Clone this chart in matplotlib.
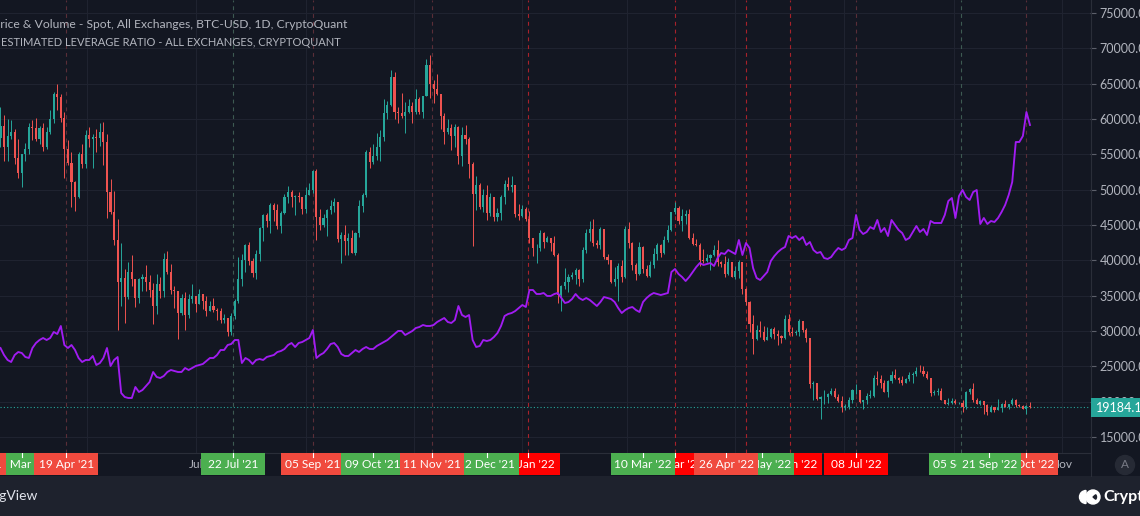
"""BTC price candles with the estimated leverage ratio, TradingView dark style."""

import matplotlib
matplotlib.use("Agg")
from matplotlib import pyplot as plt
from matplotlib.patches import Rectangle, Circle, Wedge
import matplotlib.dates as mdates
import numpy as np
import pandas as pd

plt.rcParams['font.family'] = ['Lato', 'DejaVu Sans']

# ---------------------------------------------------------------- data
# 2-day candles starting 13 Mar 2021, prices in thousands of USD
first_open = 57.3
close_k = [
    59.0, 56.0, 57.6, 58.1, 54.5, 52.3, 55.0, 55.8, 58.8, 58.7,
    57.1, 58.7, 56.0, 58.1, 60.0, 63.6, 63.1, 60.1, 55.7, 53.8,
    51.1, 49.0, 55.0, 53.6, 57.8, 57.2, 57.4, 57.3, 58.2, 56.7,
    49.7, 46.8, 42.9, 37.0, 37.5, 34.8, 38.4, 37.4, 34.6, 37.3,
    37.6, 36.9, 35.8, 33.6, 36.7, 35.6, 40.2, 38.3, 35.8, 35.6,
    32.5, 34.7, 32.2, 34.5, 35.0, 33.8, 35.3, 34.2, 32.9, 33.5,
    33.0, 32.8, 31.5, 31.8, 29.8, 32.1, 34.3, 37.3, 40.0, 42.2,
    39.9, 38.2, 40.9, 44.6, 46.4, 45.6, 47.8, 47.1, 44.8, 46.7,
    48.9, 49.6, 48.9, 49.1, 48.9, 47.2, 49.3, 50.0, 52.7, 46.1,
    45.0, 46.0, 47.1, 47.7, 48.3, 43.0, 43.6, 42.8, 43.2, 41.0,
    43.8, 47.7, 49.2, 55.4, 53.9, 54.7, 56.0, 57.4, 60.9, 62.0,
    66.0, 61.0, 60.9, 60.4, 61.0, 61.8, 61.0, 62.9, 61.0, 63.3,
    67.6, 64.9, 64.2, 63.6, 60.4, 58.1, 58.7, 57.6, 58.9, 54.7,
    57.8, 57.2, 53.6, 49.4, 50.6, 47.6, 49.3, 46.7, 48.9, 46.2,
    46.7, 49.0, 50.8, 50.4, 50.6, 46.5, 46.3, 47.3, 45.8, 43.1,
    41.7, 41.8, 43.9, 42.6, 43.1, 42.4, 40.7, 35.1, 36.3, 36.9,
    37.7, 37.9, 38.7, 37.3, 41.4, 43.8, 44.4, 42.4, 42.2, 44.5,
    40.5, 40.1, 37.0, 37.3, 39.2, 37.7, 44.4, 42.5, 39.4, 38.1,
    41.9, 38.8, 37.8, 39.3, 40.9, 42.2, 41.0, 42.9, 44.3, 46.8,
    47.4, 45.5, 46.3, 46.6, 43.2, 42.3, 42.2, 40.1, 39.9, 40.4,
    40.8, 41.5, 39.7, 39.5, 38.1, 39.7, 37.7, 38.5, 39.7, 36.0,
    34.1, 31.0, 28.9, 30.1, 29.8, 28.7, 29.2, 30.3, 29.6, 29.3,
    29.0, 31.7, 29.8, 29.7, 29.9, 31.4, 30.1, 29.0, 22.5, 22.6,
    20.4, 20.6, 20.7, 21.1, 21.5, 20.7, 20.1, 19.3, 19.3, 20.2,
    21.6, 21.6, 19.9, 20.2, 20.8, 20.8, 23.4, 23.2, 22.6, 21.3,
    22.9, 23.8, 23.3, 23.0, 22.6, 23.2, 23.8, 23.9, 24.4, 24.3,
    23.9, 23.3, 21.2, 21.4, 21.5, 20.3, 19.6, 19.8, 20.1, 19.8,
    19.8, 19.3, 21.4, 21.8, 20.2, 19.7, 20.1, 19.5, 18.5, 19.3,
    18.8, 19.1, 19.6, 19.3, 19.6, 20.2, 19.5, 19.4, 19.0, 19.4,
    19.18,
]
high_k = [
    61.7, 60.6, 60.0, 59.9, 58.6, 57.2, 55.1, 56.6, 59.4, 59.8,
    60.2, 59.0, 59.5, 58.9, 61.3, 63.8, 64.9, 63.6, 61.0, 57.0,
    55.4, 51.2, 55.4, 56.4, 58.5, 58.9, 57.9, 58.6, 59.5, 59.6,
    57.9, 51.5, 49.8, 45.8, 42.5, 38.8, 39.8, 40.8, 37.2, 37.5,
    38.0, 39.3, 37.9, 36.8, 38.0, 37.6, 41.0, 41.3, 39.5, 36.4,
    35.7, 35.2, 35.5, 35.3, 36.6, 35.0, 35.9, 35.3, 35.0, 34.3,
    34.6, 33.3, 33.2, 32.4, 31.9, 32.6, 34.5, 40.5, 40.9, 42.3,
    42.6, 40.4, 41.4, 44.7, 46.5, 46.7, 48.1, 48.1, 48.0, 47.0,
    49.4, 50.5, 49.9, 49.2, 49.6, 49.0, 50.4, 51.0, 52.8, 52.9,
    47.3, 46.5, 47.2, 48.5, 48.8, 48.3, 44.0, 45.0, 43.9, 44.3,
    44.0, 48.5, 49.5, 55.6, 56.1, 56.5, 58.0, 58.5, 62.9, 62.6,
    67.0, 66.6, 61.7, 63.7, 62.4, 62.9, 62.4, 64.3, 63.1, 63.3,
    68.5, 69.0, 65.5, 66.3, 63.6, 60.9, 60.0, 59.3, 59.3, 59.0,
    58.8, 59.2, 57.4, 53.9, 51.9, 51.0, 50.1, 50.7, 49.5, 48.9,
    47.4, 49.3, 51.4, 51.8, 52.0, 50.7, 48.0, 47.9, 47.5, 47.0,
    43.1, 42.3, 44.3, 44.0, 43.5, 43.2, 43.4, 41.1, 36.5, 38.9,
    38.0, 38.3, 38.9, 38.8, 41.9, 44.5, 45.5, 45.8, 42.9, 44.7,
    44.5, 40.9, 40.1, 39.1, 39.6, 40.0, 44.9, 45.4, 42.6, 39.6,
    42.6, 42.0, 39.3, 39.9, 41.7, 42.4, 42.3, 43.4, 45.0, 46.9,
    48.2, 47.7, 47.2, 47.1, 47.2, 43.9, 43.0, 42.5, 41.6, 40.9,
    40.9, 42.2, 42.9, 39.9, 40.6, 40.4, 39.3, 39.2, 40.0, 39.8,
    36.1, 34.3, 32.2, 30.9, 31.4, 30.7, 30.5, 30.4, 30.6, 30.2,
    29.4, 32.2, 32.4, 30.6, 30.2, 31.7, 31.0, 30.4, 28.9, 22.9,
    22.6, 20.8, 21.7, 21.2, 21.9, 21.9, 21.1, 20.8, 19.6, 20.7,
    21.8, 22.5, 21.6, 20.3, 21.2, 21.6, 23.8, 24.3, 23.8, 23.0,
    23.1, 24.4, 24.6, 23.5, 23.6, 23.4, 24.2, 24.2, 24.9, 25.2,
    25.0, 24.4, 23.2, 21.7, 21.9, 22.0, 20.3, 20.5, 20.5, 20.4,
    20.0, 20.2, 21.5, 21.9, 22.7, 20.5, 20.2, 20.1, 19.6, 19.5,
    19.3, 20.4, 19.8, 20.2, 19.7, 20.5, 20.4, 19.6, 19.5, 19.5,
    19.9,
]
low_k = [
    56.0, 54.0, 54.1, 57.2, 53.7, 51.7, 50.4, 54.1, 55.0, 57.0,
    56.9, 56.5, 55.5, 55.7, 57.9, 59.4, 61.3, 59.6, 51.6, 53.5,
    47.5, 47.0, 48.8, 53.0, 53.1, 56.1, 53.0, 55.4, 56.2, 53.5,
    46.0, 46.6, 42.1, 30.1, 33.5, 31.1, 34.5, 36.4, 33.4, 34.0,
    35.7, 35.6, 34.8, 31.0, 32.4, 34.6, 34.8, 38.1, 35.2, 33.3,
    28.8, 32.3, 30.2, 31.9, 34.0, 32.7, 33.9, 33.1, 32.1, 32.8,
    32.7, 31.6, 31.2, 31.1, 29.3, 29.5, 31.7, 34.0, 36.4, 38.3,
    39.4, 37.6, 37.3, 39.9, 42.8, 44.7, 43.8, 45.6, 44.4, 43.9,
    46.6, 48.1, 47.6, 46.4, 48.3, 46.5, 46.7, 49.3, 49.5, 42.9,
    44.3, 44.7, 43.4, 46.6, 46.8, 42.6, 39.6, 40.7, 40.8, 41.0,
    40.8, 43.3, 46.9, 49.0, 53.1, 53.7, 54.2, 54.0, 56.9, 60.0,
    61.9, 60.0, 59.5, 60.2, 58.0, 60.9, 59.4, 60.7, 60.7, 60.1,
    63.3, 63.0, 62.3, 63.4, 58.6, 56.5, 57.9, 55.6, 56.0, 53.6,
    53.3, 56.5, 51.7, 42.0, 47.1, 47.3, 46.9, 45.7, 46.3, 45.6,
    45.6, 45.7, 48.0, 50.0, 49.6, 46.1, 45.7, 46.2, 45.6, 42.5,
    40.6, 39.6, 41.3, 41.8, 42.6, 41.3, 40.6, 34.0, 32.9, 36.0,
    35.5, 37.3, 36.6, 36.3, 37.0, 41.1, 42.7, 42.0, 41.7, 41.6,
    40.2, 39.5, 36.8, 36.4, 34.3, 37.0, 37.5, 41.8, 38.6, 37.2,
    37.9, 38.2, 37.6, 37.6, 38.9, 40.1, 40.5, 40.9, 42.6, 44.1,
    46.6, 45.2, 44.2, 45.1, 43.0, 42.1, 42.0, 39.2, 39.6, 39.8,
    38.6, 40.6, 39.2, 39.1, 37.7, 37.9, 37.6, 37.4, 37.5, 35.3,
    33.7, 29.8, 26.7, 28.7, 29.1, 28.6, 28.7, 29.0, 28.9, 28.0,
    28.3, 28.8, 29.4, 29.3, 29.5, 29.3, 29.9, 28.5, 22.0, 20.2,
    20.2, 17.6, 19.7, 19.8, 20.9, 20.5, 19.9, 18.6, 18.8, 19.0,
    19.8, 21.1, 19.8, 18.9, 19.7, 20.5, 20.7, 22.4, 21.9, 21.3,
    20.7, 22.6, 23.2, 22.7, 22.4, 22.6, 22.9, 22.7, 23.6, 24.2,
    23.7, 23.2, 20.8, 20.9, 21.0, 20.2, 19.6, 19.5, 19.6, 19.7,
    19.6, 18.6, 19.0, 21.1, 19.9, 19.6, 19.5, 18.3, 18.1, 18.5,
    18.6, 18.8, 18.5, 19.2, 19.0, 19.5, 19.3, 19.3, 18.9, 18.2,
    19.1,
]
# estimated leverage ratio, same 2-day dates
leverage = [
    .152, .145, .140, .138, .145, .148, .147, .143, .142, .152,
    .157, .160, .162, .160, .162, .168, .166, .174, .155, .152,
    .155, .150, .142, .138, .140, .140, .144, .135, .137, .142,
    .152, .134, .140, .143, .107, .103, .102, .102, .113, .108,
    .110, .114, .118, .128, .123, .122, .124, .128, .130, .129,
    .128, .128, .132, .130, .132, .134, .135, .136, .139, .142,
    .142, .145, .150, .150, .155, .156, .160, .160, .137, .142,
    .140, .136, .140, .141, .140, .143, .144, .145, .148, .149,
    .151, .155, .157, .153, .157, .158, .160, .162, .170, .142,
    .145, .147, .151, .156, .157, .153, .146, .144, .144, .147,
    .150, .148, .151, .153, .151, .151, .154, .156, .158, .160,
    .163, .166, .169, .169, .165, .167, .169, .172, .173, .175,
    .174, .174, .175, .178, .180, .182, .178, .177, .180, .194,
    .185, .183, .185, .160, .153, .154, .160, .159, .160, .163,
    .167, .174, .184, .186, .187, .189, .192, .195, .193, .210,
    .210, .206, .206, .207, .204, .204, .206, .207, .202, .197,
    .198, .201, .206, .202, .200, .202, .200, .197, .194, .198,
    .203, .202, .201, .198, .192, .187, .190, .192, .193, .190,
    .188, .198, .202, .205, .207, .206, .205, .206, .207, .228,
    .231, .226, .223, .219, .223, .228, .233, .237, .235, .236,
    .237, .234, .242, .247, .246, .250, .248, .246, .260, .245,
    .257, .252, .232, .222, .220, .224, .228, .239, .244, .248,
    .251, .253, .264, .262, .264, .260, .263, .255, .258, .250,
    .247, .248, .242, .241, .243, .248, .252, .250, .252, .260,
    .262, .285, .270, .266, .268, .273, .271, .280, .268, .272,
    .264, .280, .275, .270, .267, .260, .262, .268, .274, .268,
    .271, .265, .279, .277, .277, .277, .285, .299, .302, .282,
    .304, .310, .303, .300, .308, .310, .276, .282, .276, .279,
    .278, .282, .288, .295, .305, .318, .358, .358, .364, .388,
    .375,
]
last_price = 19184.10

# event labels on the time axis
label_dates = ['2021-02-26', '2021-03-25', '2021-04-19', '2021-07-22', '2021-09-05',
               '2021-10-09', '2021-11-11', '2021-12-12', '2022-01-04', '2022-03-10',
               '2022-03-28', '2022-04-26', '2022-05-07', '2022-05-16', '2022-06-01',
               '2022-07-08', '2022-09-05', '2022-09-21', '2022-10-12']
label_texts = ["26 Feb '21", "25 Mar '21", "19 Apr '21", "22 Jul '21", "05 Sep '21",
               "09 Oct '21", "11 Nov '21", "12 Dec '21", "04 Jan '22", "10 Mar '22",
               "28 Mar '22", "26 Apr '22", "07 May '22", "16 May '22", "01 Jun '22",
               "08 Jul '22", "05 Sep '22", "21 Sep '22", "12 Oct '22"]
label_kind = ['r', 'g', 'r', 'g', 'r', 'g', 'r', 'g', 'R', 'g',
              'R', 'r', 'R', 'g', 'R', 'R', 'g', 'g', 'r']
label_line = ['', '', 'r', 'g', 'r', '', 'r', '', 'R', '',
              'R', '', 'R', '', 'R', 'r', 'g', '', 'r']
label_rank = [3, 1, 2, 1, 1, 2, 3, 2, 1, 3, 1, 3, 1, 2, 1, 1, 1, 2, 1]

month_dates = ['2021-05-01', '2021-07-01', '2021-09-01', '2021-11-01', '2022-01-01',
               '2022-03-01', '2022-05-01', '2022-07-01', '2022-09-01', '2022-11-01']
month_names = ['May', 'Jul', 'Sep', 'Nov', '2022', 'Mar', 'May', 'Jul', 'Sep', 'Nov']
price_ticks = list(range(15000, 80000, 5000))

# ---------------------------------------------------------------- style
BG = '#131722'
FOOT = '#1e222d'
GRID = '#1f2330'
TXT = '#b2b5be'
UP, DOWN = '#26a69a', '#ef5350'
box_colors = {'r': '#f04a3e', 'R': '#ff0000', 'g': '#4caf50'}
line_colors = {'r': '#5a2e38', 'R': '#a8222b', 'g': '#3d5a52'}

W, H = 1140, 516
fig = plt.figure(figsize=(W / 100, H / 100), dpi=100)
fig.patch.set_facecolor(BG)


def fx(px):
    return px / W


def fy(py):
    return 1 - py / H


ax = fig.add_axes([0, fy(453), fx(1090), 453 / H])
ax.set_facecolor(BG)
ax2 = ax.twinx()
axt = fig.add_axes([0, fy(476), fx(1090), 23 / H], sharex=ax)

dates = pd.date_range('2021-03-13', periods=len(close_k), freq='2D')
x = mdates.date2num(dates)
c = np.array(close_k) * 1000
o = np.r_[first_open, close_k[:-1]] * 1000
hi = np.array(high_k) * 1000
lo = np.array(low_k) * 1000
col = np.where(c >= o, UP, DOWN)

# candles
ax.vlines(x, np.minimum(lo, np.minimum(o, c)), np.maximum(hi, np.maximum(o, c)),
          colors=col, lw=0.7, zorder=3)
ax.bar(x, np.maximum(np.abs(c - o), 80), bottom=np.minimum(o, c), width=1.2,
       color=col, lw=0, zorder=4)

# grid
for t in price_ticks:
    ax.axhline(t, color=GRID, lw=0.8, zorder=0.5)
for d in month_dates:
    ax.axvline(mdates.date2num(pd.Timestamp(d)), color=GRID, lw=0.8, zorder=0.5)

# event lines
for d, k in zip(label_dates, label_line):
    if k:
        ax.axvline(mdates.date2num(pd.Timestamp(d)), color=line_colors[k],
                   lw=0.8, ls=(0, (3.5, 3.5)), zorder=2)

# last price line
ax.axhline(last_price, color=UP, lw=0.8, ls=(0, (1, 2)), zorder=2)

x_left = mdates.date2num(pd.Timestamp('2021-03-13')) - 0.27
ax.set_xlim(x_left, x_left + 1090 / 1.775)
ax.set_ylim(12736, 76840)

ax.yaxis.tick_right()
ax.set_yticks(price_ticks)
ax.set_yticklabels([f'{t:.2f}' for t in price_ticks])
ax.tick_params(axis='y', right=True, left=False, length=4, width=0.8,
               color='#5d606b', labelcolor=TXT, labelsize=9, pad=3)
ax.tick_params(axis='x', bottom=False, labelbottom=False)
for s in ax.spines.values():
    s.set_visible(False)
ax.spines['bottom'].set_visible(True)
ax.spines['bottom'].set_color('#2a2e39')

# leverage ratio
ax2.plot(x, leverage, color='#a11cf2', lw=1.35, solid_joinstyle='round', zorder=5)
ax2.set_ylim(0.047, 0.5)
ax2.set_axis_off()

# time axis strip
axt.set_ylim(0, 23)
axt.set_axis_off()
for d, name in zip(month_dates, month_names):
    axt.text(mdates.date2num(pd.Timestamp(d)), 11.5, name, color=TXT, fontsize=8.6,
             ha='center', va='center', zorder=1, clip_on=True)
box_days = 64 / 1.775
for d, txt, k, r in zip(label_dates, label_texts, label_kind, label_rank):
    xd = mdates.date2num(pd.Timestamp(d))
    z = 2 + 3 * r
    axt.add_patch(Rectangle((xd - box_days / 2, 1), box_days, 22,
                            color=box_colors[k], lw=0, zorder=z))
    axt.plot([xd, xd], [19.5, 23], color='white', lw=0.8, zorder=z + 1)
    axt.text(xd, 11.5, txt, color='white', fontsize=8.6, ha='center', va='center',
             zorder=z + 2, clip_on=True)

# separators and footer
fig.add_artist(plt.Line2D([fx(1090.5), fx(1090.5)], [fy(0), fy(476)],
                          color='#2a2e39', lw=0.8))
fig.add_artist(Rectangle((0, 0), 1, 40 / H, transform=fig.transFigure,
                         color=FOOT, lw=0, zorder=1))

# last price tag
fig.add_artist(Rectangle((fx(1091), fy(417)), fx(60), 19 / H,
                         transform=fig.transFigure, color=UP, lw=0, zorder=5))
fig.text(fx(1096), fy(407.5), f'{last_price:.2f}', color='white', fontsize=9,
         ha='left', va='center', zorder=6)

# legend lines
fig.text(fx(-7), fy(25), 'Price & Volume - Spot, All Exchanges, BTC-USD, 1D, CryptoQuant',
         color=TXT, fontsize=8.7, ha='left', va='center')
fig.text(fx(1), fy(43), 'ESTIMATED LEVERAGE RATIO - ALL EXCHANGES, CRYPTOQUANT',
         color=TXT, fontsize=8.0, ha='left', va='center')

# footer branding
fig.text(fx(38), fy(496), 'TradingView', color='#e0e3eb', fontsize=10,
         ha='right', va='center', zorder=3)
fig.add_artist(Wedge((10.86, (516 - 497) / 100), 0.065, 90, 270,
                     transform=fig.dpi_scale_trans, color='white', zorder=3))
fig.add_artist(Circle((10.93, (516 - 497) / 100), 0.07,
                      transform=fig.dpi_scale_trans, color='white', zorder=3))
fig.add_artist(Wedge((10.93, (516 - 497) / 100), 0.035, -40, 40,
                     transform=fig.dpi_scale_trans, color=FOOT, zorder=4))
fig.text(fx(1103), fy(497), 'CryptoQuant', color='white', fontsize=11.5,
         weight='bold', ha='left', va='center', zorder=3)

# auto-scale button
fig.add_artist(Circle((11.25, (516 - 465) / 100), 0.095,
                      transform=fig.dpi_scale_trans, color='#262a35', zorder=3))
fig.text(fx(1125), fy(465), 'A', color='#787b86', fontsize=8.5,
         ha='center', va='center', zorder=4)

fig.savefig('out.png', dpi=100, facecolor=BG)
